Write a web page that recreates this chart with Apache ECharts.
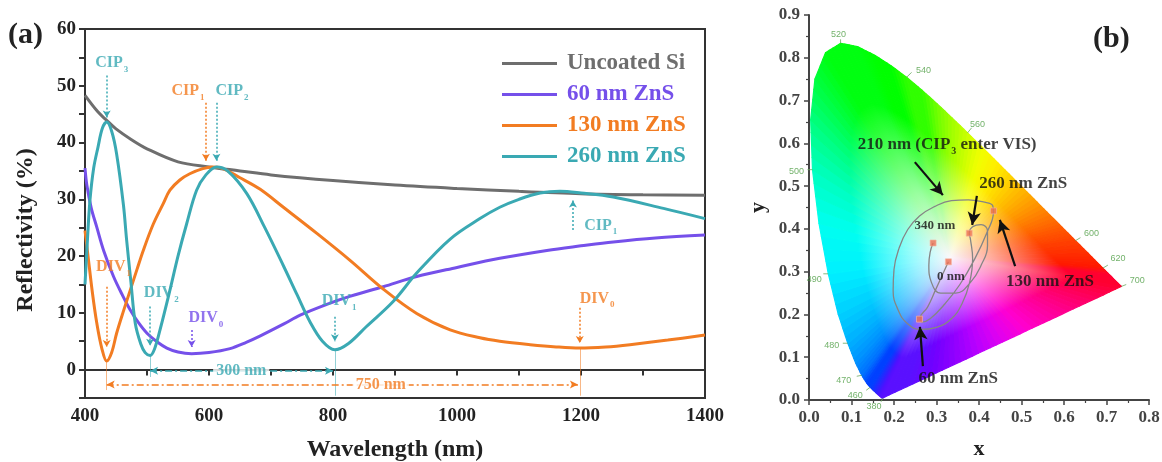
<!DOCTYPE html>
<html><head><meta charset="utf-8">
<script src="https://cdn.jsdelivr.net/npm/echarts@6/dist/echarts.min.js"></script>
<style>html,body{margin:0;padding:0;background:#fff}#c{width:1162px;height:462px}</style>
</head><body><div id="c"></div>
<script>
// ---------------- DATA (panel a) ----------------
const siX = [400,420,435,450,475,500,550,600,650,700,800,900,1000,1100,1200,1300,1400];
const siY = [48.3,45.5,43.9,42.4,40.5,38.9,36.6,35.7,35.0,34.3,33.3,32.5,31.9,31.4,31.0,30.8,30.7];

const p60X = [400,403,410,419,430,446,460,473,486,500,516,532,550,572,600,634,660,682,720,747,790,827,881,935,1000,1069,1145,1200,1252,1320,1400];
const p60Y = [35.5,32.5,28.5,25.1,21.0,16.4,13.2,10.5,8.3,6.4,4.9,3.8,3.1,2.8,3.0,3.7,4.8,5.9,8.0,9.6,11.5,12.9,14.6,16.4,18.0,19.6,21.0,21.8,22.5,23.2,23.7];

const o130X = [400,405,412,419,427,435,443,451,462,473,484,494,510,526,537,553,569,590,605,620,650,682,720,774,827,881,935,989,1037,1069,1118,1160,1198,1240,1279,1340,1400];
const o130Y = [24.5,19.9,13.5,8.2,3.8,1.5,3.0,6.4,10.3,14.0,17.7,21.0,25.6,29.2,31.6,33.4,34.5,35.4,35.7,35.5,33.8,31.8,28.6,24.0,19.3,14.2,9.9,7.0,5.6,5.0,4.4,4.0,3.8,4.0,4.4,5.2,6.1];

const t260X = [400,404,408,414,421,428,435,443,451,462,467,474,481,490,497,505,512,521,537,550,564,580,595,612,630,661,690,720,742,763,783,803,825,854,897,935,989,1037,1069,1100,1134,1166,1200,1252,1333,1400];
const t260Y = [15,23,29.8,35.5,39.2,42.5,43.6,42.0,38.0,29.0,23.0,15.5,8.2,4.5,3.0,2.5,3.6,7.0,14.0,20.0,25.7,31.6,34.3,35.7,35.0,31.0,25.0,18.3,13.2,8.4,5.0,3.5,4.6,7.6,12.0,17.0,23.0,26.6,28.6,30.0,31.1,31.4,31.1,30.4,28.4,26.6];

// annotations (panel a)
const annText = ['CIP','CIP','CIP','DIV','DIV','DIV','DIV','CIP','DIV'];
const annSub  = ['3','1','2','1','2','0','1','1','0'];
const annX    = [443,566,637,446,523,595,810,1232,1226];
const annY    = [54,49.1,49.1,18.1,13.5,9.1,12.1,25.4,12.5];
const annKey  = ['t','o','t','o','t','p','t','t','o'];
const arrX    = [435,595,612,435,505,572,803,1187,1198];
const arrY1   = [51.8,47,47,14.6,11.1,7,9.3,24.6,10.9];
const arrY2   = [44.4,36.8,36.8,4.0,4.2,4.0,5.0,29.8,4.7];
const dropX   = [435,505,803,1198];
const dropY1  = [1.5,2.5,3.5,3.8];
const dropY2  = [-3.6,-1.3,-4.6,-4.6];
const dropKey = ['o','t','t','o'];
const spanX1  = [505,435];
const spanX2  = [800,1195];
const spanY   = [-0.2,-2.6];
const spanText= ['300 nm','750 nm'];
const spanTextX=[652,877];
const spanKey = ['t','o'];

// ---------------- DATA (panel b) ----------------
const locusWl = [380,420,440,450,460,465,470,475,480,485,490,495,500,505,510,515,520,525,530,535,540,545,550,555,560,565,570,575,580,585,590,595,600,610,620,630,640,650,680,700];
const locusX = [0.1741,0.1714,0.1644,0.1566,0.1440,0.1355,0.1241,0.1096,0.0913,0.0687,0.0454,0.0235,0.0082,0.0039,0.0139,0.0389,0.0743,0.1142,0.1547,0.1929,0.2296,0.2658,0.3016,0.3373,0.3731,0.4087,0.4441,0.4788,0.5125,0.5448,0.5752,0.6029,0.6270,0.6658,0.6915,0.7079,0.7190,0.7260,0.7334,0.7347];
const locusY = [0.0050,0.0051,0.0109,0.0177,0.0297,0.0399,0.0578,0.0868,0.1327,0.2007,0.2950,0.4127,0.5384,0.6548,0.7502,0.8120,0.8338,0.8262,0.8059,0.7816,0.7543,0.7243,0.6923,0.6589,0.6245,0.5896,0.5547,0.5202,0.4866,0.4544,0.4242,0.3965,0.3725,0.3340,0.3083,0.2920,0.2809,0.2740,0.2666,0.2653];
const wlLabels = [520,540,560,600,620,700,500,490,480,470,460,380];

const loopX = [0.328,0.315,0.298,0.279,0.262,0.265,0.285,0.32,0.355,0.39,0.418,0.434,0.432,0.41,0.375,0.335,0.295,0.26,0.232,0.212,0.2,0.198,0.21,0.232,0.262,0.3,0.335,0.36,0.378,0.385,0.38,0.377,0.385,0.405,0.42,0.42,0.405,0.38,0.345,0.31,0.288,0.282,0.285,0.292];
const loopY = [0.323,0.295,0.258,0.217,0.192,0.182,0.19,0.225,0.27,0.33,0.39,0.44,0.455,0.463,0.468,0.466,0.452,0.43,0.398,0.355,0.305,0.255,0.21,0.178,0.165,0.17,0.19,0.225,0.275,0.33,0.375,0.39,0.405,0.41,0.395,0.36,0.315,0.275,0.25,0.25,0.275,0.315,0.345,0.367];

const sqX = [0.26,0.328,0.292,0.377,0.434];
const sqY = [0.189,0.323,0.367,0.39,0.442];

const cieText = ['210 nm (CIP|3| enter VIS)','260 nm ZnS','340 nm','0 nm','130 nm ZnS','60 nm ZnS'];
const cieTextX = [0.325,0.504,0.296,0.334,0.567,0.351];
const cieTextY = [0.596,0.507,0.407,0.288,0.276,0.051];
const cieArrX1 = [0.249,0.395,0.485,0.268];
const cieArrY1 = [0.556,0.477,0.313,0.079];
const cieArrX2 = [0.315,0.384,0.449,0.261];
const cieArrY2 = [0.479,0.409,0.421,0.171];

// ---------------- STYLE ----------------
const F = "'Liberation Serif','Times New Roman',serif";
const COL = {g:'#6e6e6e', p:'#7550ea', o:'#f27c22', t:'#3aa9b3'};
const wlLabelOffset = {520:[-2,-9],540:[17,-7],560:[10,-8],600:[16,-7],620:[15,-10],700:[16,-6],500:[-16,2],490:[-14,6],480:[-16,2],470:[-18,5],460:[-15,8],380:[-9,9]};
const wlTickDir = {520:[0,-4],540:[5,-5],560:[4,-5],600:[5,-3],620:[5,-3],700:[5,-2],500:[-5,0],490:[-5,0],480:[-5,0],470:[-5,1],460:[-4,3],380:[-2,4]};
const wlColorStops = [[380,'#5a10ff'],[440,'#5010ff'],[450,'#3020ff'],[460,'#0040ff'],[470,'#0070ff'],[475,'#0090ff'],[480,'#00b0ff'],[485,'#00d0ff'],[490,'#00f0ff'],[495,'#00fff0'],[500,'#00ffc0'],[505,'#00ff80'],[510,'#00ff40'],[515,'#00ff10'],[530,'#00ff00'],[540,'#30ff00'],[550,'#70ff00'],[555,'#a0ff00'],[560,'#c8ff00'],[565,'#f0ff00'],[570,'#ffee00'],[575,'#ffd000'],[580,'#ffb000'],[585,'#ff9000'],[590,'#ff7000'],[595,'#ff5500'],[600,'#ff4000'],[610,'#ff2800'],[620,'#ff1800'],[630,'#ff0030'],[700,'#ff0030']];
const purpleCols = ['#ff0030','#ff0058','#ff0080','#ff00a8','#ff00d0','#e000f0','#b800ff','#9000ff','#7000ff','#5a10ff'];

function hex2rgb(h){return [parseInt(h.slice(1,3),16),parseInt(h.slice(3,5),16),parseInt(h.slice(5,7),16)];}
function rgbStr(c){return 'rgb('+c.map(v=>Math.round(v)).join(',')+')';}
function mixW(c,w){return rgbStr(c.map(v=>v+(255-v)*w));}
function wlColor(wl){let c=wlColorStops[0][1];for(const s of wlColorStops){if(wl>=s[0])c=s[1];}return c;}

// polygon edge points (locus + straight purple line), subdivided for smooth colour
const coarse = [];
for(let i=0;i<locusWl.length;i++) coarse.push({x:locusX[i],y:locusY[i],c:hex2rgb(wlColor(locusWl[i]))});
const nP = purpleCols.length;
const lx0=locusX[locusX.length-1], ly0=locusY[locusY.length-1], lx1=locusX[0], ly1=locusY[0];
for(let k=1;k<nP;k++){const t=k/nP;coarse.push({x:lx0+(lx1-lx0)*t,y:ly0+(ly1-ly0)*t,c:hex2rgb(purpleCols[k])});}
const edge = [];
const SUB=4;
for(let i=0;i<coarse.length;i++){
  const a=coarse[i], b=coarse[(i+1)%coarse.length];
  for(let s=0;s<SUB;s++){const t=s/SUB;
    edge.push({x:a.x+(b.x-a.x)*t,y:a.y+(b.y-a.y)*t,c:a.c.map((v,j)=>v+(b.c[j]-v)*(t+0.5/SUB))});}
}
const WP=[0.333,0.333];

function zip(a,b){return a.map((v,i)=>[v,b[i]]);}
const axisFont = {fontFamily:F,fontWeight:'bold',color:'#222'};

function richFor(k,big,small){
  return {m:{fontFamily:F,fontWeight:'bold',fontSize:big,color:COL[k]||'#111'},
          s:{fontFamily:F,fontWeight:'bold',fontSize:small,color:COL[k]||'#111',verticalAlign:'bottom',padding:[0,0,-3,1]}};
}

const annData = annText.map((t,i)=>({value:[annX[i],annY[i]],
  label:{formatter:'{m|'+t+'}{s|'+annSub[i]+'}', rich:richFor(annKey[i],16,9)}}));

const arrowLines = arrX.map((x,i)=>[{coord:[x,arrY1[i]],lineStyle:{color:COL[annKey[i]]}},{coord:[x,arrY2[i]]}]);
const dropLines = dropX.map((x,i)=>[{coord:[x,dropY1[i]],lineStyle:{color:COL[dropKey[i]]}},{coord:[x,dropY2[i]]}]);
const spanLines = spanX1.map((x,i)=>[{coord:[x,spanY[i]],lineStyle:{color:COL[spanKey[i]]}},{coord:[spanX2[i],spanY[i]]}]);
const spanLabelData = spanText.map((t,i)=>({value:[spanTextX[i],spanY[i]],label:{formatter:t,color:COL[spanKey[i]]}}));

const cieLabelData = cieText.map((t,i)=>{
  const parts=t.split('|');
  let f='';
  if(parts.length===3){f='{m|'+parts[0]+'}{s|'+parts[1]+'}{m|'+parts[2]+'}';} else f='{m|'+t+'}';
  const small = (t==='340 nm'||t==='0 nm');
  return {value:[cieTextX[i],cieTextY[i]],label:{formatter:f,rich:richFor('x',small?13:17,small?8:10)}};
});
const cieArrows = cieArrX1.map((x,i)=>[{coord:[x,cieArrY1[i]]},{coord:[cieArrX2[i],cieArrY2[i]]}]);
const wlLabelData = wlLabels.map(w=>{const i=locusWl.indexOf(w);return {value:[locusX[i],locusY[i],w],name:String(w),label:{offset:wlLabelOffset[w]}};});

const chart = echarts.init(document.getElementById('c'));
const option = {
  animation:false,
  backgroundColor:'#fff',
  grid:[
    {left:85,top:29,width:620,height:369,show:true,borderColor:'#333',borderWidth:2,backgroundColor:'transparent',outerBoundsMode:'none',containLabel:false},
    {left:809,top:15,width:340,height:385,outerBoundsMode:'none',containLabel:false}
  ],
  legend:{
    left:497,top:47,orient:'vertical',itemWidth:55,itemHeight:3,itemGap:8,icon:'rect',
    textStyle:{fontFamily:F,fontWeight:'bold',fontSize:23,padding:[0,0,0,5]},
    data:[{name:'Uncoated Si',textStyle:{color:COL.g}},{name:'60 nm ZnS',textStyle:{color:COL.p}},
          {name:'130 nm ZnS',textStyle:{color:COL.o}},{name:'260 nm ZnS',textStyle:{color:COL.t}}]
  },
  xAxis:[
    {gridIndex:0,type:'value',min:400,max:1400,interval:100,
     axisLine:{lineStyle:{color:'#333',width:2}},axisTick:{length:6,lineStyle:{width:2,color:'#333'}},
     splitLine:{show:false},
     axisLabel:Object.assign({fontSize:19,margin:9,formatter:v=>(v%200===0?String(v):'')},axisFont),
     name:'Wavelength (nm)',nameLocation:'middle',nameGap:40,nameTextStyle:Object.assign({fontSize:24},axisFont)},
    {gridIndex:1,type:'value',min:0,max:0.8,interval:0.1,
     axisLine:{lineStyle:{color:'#444',width:2}},axisTick:{length:5,lineStyle:{width:1.5,color:'#444'}},
     minorTick:{show:true,splitNumber:2,length:3,lineStyle:{color:'#444',width:1.2}},
     splitLine:{show:false},
     axisLabel:Object.assign({fontSize:17,margin:9,formatter:v=>v.toFixed(1)},axisFont,{color:'#444'}),
     name:'x',nameLocation:'middle',nameGap:38,nameTextStyle:Object.assign({fontSize:22},axisFont)}
  ],
  yAxis:[
    {gridIndex:0,type:'value',min:-5,max:60,interval:5,
     axisLine:{lineStyle:{color:'#333',width:2}},axisTick:{length:6,lineStyle:{width:2,color:'#333'}},
     splitLine:{show:false},
     axisLabel:Object.assign({fontSize:19,margin:9,formatter:v=>(v>=0&&v%10===0?String(v):'')},axisFont)},
    {gridIndex:1,type:'value',min:0,max:0.9,interval:0.1,
     axisLine:{lineStyle:{color:'#444',width:2}},axisTick:{length:5,lineStyle:{width:1.5,color:'#444'}},
     minorTick:{show:true,splitNumber:2,length:3,lineStyle:{color:'#444',width:1.2}},
     splitLine:{show:false},
     axisLabel:Object.assign({fontSize:17,margin:9,formatter:v=>v.toFixed(1)},axisFont,{color:'#444'}),
     name:'y',nameLocation:'middle',nameGap:40,nameTextStyle:Object.assign({fontSize:22},axisFont)}
  ],
  graphic:[
    {type:'text',left:8,top:20,style:{text:'(a)',fontFamily:F,fontWeight:'bold',fontSize:30,fill:'#222'}},
    {type:'text',left:1093,top:24,style:{text:'(b)',fontFamily:F,fontWeight:'bold',fontSize:30,fill:'#222'}},
    {type:'text',x:26,y:230,rotation:Math.PI/2,
     style:{text:'Reflectivity (%)',fontFamily:F,fontWeight:'bold',fontSize:24,fill:'#222',align:'center',verticalAlign:'middle'}}
  ],
  series:[
    {name:'Uncoated Si',type:'line',xAxisIndex:0,yAxisIndex:0,data:zip(siX,siY),smooth:0.35,showSymbol:false,symbol:'none',lineStyle:{width:3,color:COL.g},itemStyle:{color:COL.g},z:3},
    {name:'60 nm ZnS',type:'line',xAxisIndex:0,yAxisIndex:0,data:zip(p60X,p60Y),smooth:0.35,showSymbol:false,symbol:'none',lineStyle:{width:3,color:COL.p},itemStyle:{color:COL.p},z:3},
    {name:'130 nm ZnS',type:'line',xAxisIndex:0,yAxisIndex:0,data:zip(o130X,o130Y),smooth:0.35,showSymbol:false,symbol:'none',lineStyle:{width:3,color:COL.o},itemStyle:{color:COL.o},z:3},
    {name:'260 nm ZnS',type:'line',xAxisIndex:0,yAxisIndex:0,data:zip(t260X,t260Y),smooth:0.35,showSymbol:false,symbol:'none',lineStyle:{width:3,color:COL.t},itemStyle:{color:COL.t},z:3},
    {name:'annArrows',type:'line',xAxisIndex:0,yAxisIndex:0,data:[],silent:true,
     markLine:{silent:true,symbol:['none','arrow'],symbolSize:[6,7],label:{show:false},
       lineStyle:{type:[2,2],width:1.5},data:arrowLines}},
    {name:'annDrops',type:'line',xAxisIndex:0,yAxisIndex:0,data:[],silent:true,
     markLine:{silent:true,symbol:['none','none'],label:{show:false},lineStyle:{type:'solid',width:1,opacity:0.55},data:dropLines}},
    {name:'annSpans',type:'line',xAxisIndex:0,yAxisIndex:0,data:[],silent:true,
     markLine:{silent:true,symbol:['arrow','arrow'],symbolSize:[6,8],label:{show:false},lineStyle:{type:[7,3,2,3],width:1.5},data:spanLines}},
    {name:'annLabels',type:'scatter',xAxisIndex:0,yAxisIndex:0,data:annData,symbolSize:0,silent:true,z:8,
     label:{show:true,position:'inside'}},
    {name:'spanLabels',type:'scatter',xAxisIndex:0,yAxisIndex:0,data:spanLabelData,symbolSize:0,silent:true,z:6,
     label:{show:true,position:'inside',fontFamily:F,fontWeight:'bold',fontSize:16,backgroundColor:'#fff',padding:[0,3]}},
    // panel b
    {name:'cie',type:'custom',xAxisIndex:1,yAxisIndex:1,silent:true,z:1,
     data:edge.map((e,i)=>[WP[0],WP[1],i]),encode:{x:0,y:1},
     renderItem:function(params,api){
       const i=api.value(2);
       const a=edge[i], b=edge[(i+1)%edge.length];
       const w=api.coord(WP), p1=api.coord([a.x,a.y]), p2=api.coord([b.x,b.y]);
       const m=[(p1[0]+p2[0])/2,(p1[1]+p2[1])/2];
       const c=a.c;
       const grad={type:'linear',x:w[0],y:w[1],x2:m[0],y2:m[1],global:true,
         colorStops:[{offset:0,color:'#fbf7fb'},{offset:0.3,color:mixW(c,0.6)},{offset:0.72,color:rgbStr(c)},{offset:1,color:rgbStr(c)}]};
       return {type:'polygon',shape:{points:[w,p1,p2]},style:{fill:grad,stroke:grad,lineWidth:1.2,lineJoin:'round'}};
     }},
    {name:'wlTicks',type:'custom',xAxisIndex:1,yAxisIndex:1,silent:true,z:2,
     data:wlLabelData.map(d=>d.value),encode:{x:0,y:1},
     renderItem:function(params,api){
       const p=api.coord([api.value(0),api.value(1)]);const d=wlTickDir[api.value(2)];
       return {type:'line',shape:{x1:p[0],y1:p[1],x2:p[0]+d[0],y2:p[1]+d[1]},style:{stroke:'#6aa860',lineWidth:0.8}};
     }},
    {name:'loop',type:'line',xAxisIndex:1,yAxisIndex:1,data:zip(loopX,loopY),smooth:0.45,showSymbol:false,symbol:'none',
     lineStyle:{width:1.3,color:'#858585'},z:4,silent:true},
    {name:'points',type:'scatter',xAxisIndex:1,yAxisIndex:1,data:zip(sqX,sqY),symbol:'rect',symbolSize:6,
     itemStyle:{color:'#ee6f52',borderColor:'#f5b6a0',borderWidth:0.8},z:5,silent:true},
    {name:'cieArrows',type:'line',xAxisIndex:1,yAxisIndex:1,data:[],silent:true,
     markLine:{silent:true,symbol:['none','arrow'],symbolSize:[10,13],label:{show:false},lineStyle:{type:'solid',width:2.2,color:'#111'},data:cieArrows}},
    {name:'cieLabels',type:'scatter',xAxisIndex:1,yAxisIndex:1,data:cieLabelData,symbolSize:0,silent:true,z:6,
     label:{show:true,position:'inside'}},
    {name:'wlLabels',type:'scatter',xAxisIndex:1,yAxisIndex:1,data:wlLabelData,symbolSize:0,silent:true,z:6,
     label:{show:true,position:'inside',formatter:'{b}',fontFamily:'Liberation Sans',fontSize:9,color:'#4e9e44'}}
  ]
};
chart.setOption(option);
</script></body></html>
